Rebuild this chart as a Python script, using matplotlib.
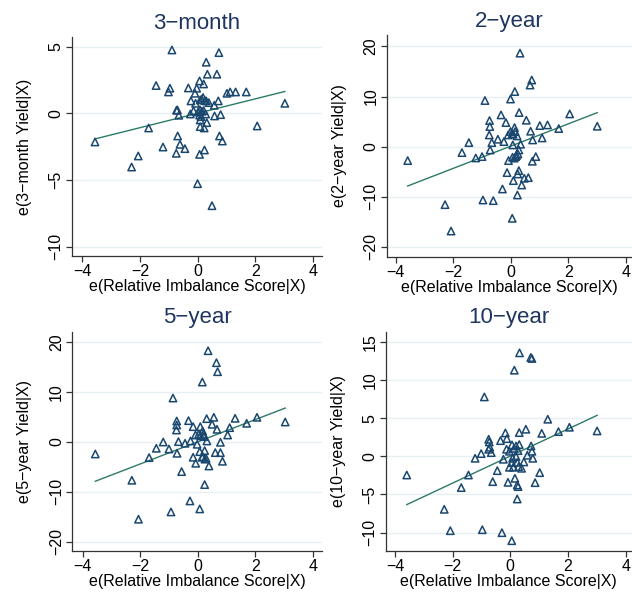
import numpy as np
import matplotlib.pyplot as plt

plt.rcParams['font.family'] = ['Liberation Sans', 'DejaVu Sans']

# panel titles / labels
titles = ["3\u2212month", "2\u2212year", "5\u2212year", "10\u2212year"]
ylabels = ["e(3\u2212month Yield|X)", "e(2\u2212year Yield|X)",
           "e(5\u2212year Yield|X)", "e(10\u2212year Yield|X)"]
xlabel = "e(Relative Imbalance Score|X)"

# 3-month
x_3m = [-0.89, 0.74, 0.30, 0.34, 0.67, -1.44, -0.96, -1.01, -0.32, 0.07, 0.21, -0.03,
        -0.09, 1.02, 1.13, 1.32, 1.69, 3.03, 2.07, -0.23, -0.07, 0.09, 0.19, 0.30, 0.39,
        0.72, 0.58, -0.73, -0.65, -0.25, -0.14, 0.09, 0.21, 0.07, 0.28, 0.59, 0.80, 0.09,
        0.32, 0.09, 0.23, -1.70, -0.69, 0.76, 0.86, -3.56, -0.61, -1.20, -0.44, -0.74,
        0.24, 0.07, -2.06, -2.29, 0.00, 0.50, 0.14, 0.25, 0.15, 0.02, -0.70, 0.12]
y_3m = [4.75, 4.55, 3.83, 2.93, 2.93, 2.08, 1.88, 1.60, 1.90, 2.43, 2.20, 1.88,
        1.50, 1.50, 1.60, 1.60, 1.60, 0.75, -0.95, 0.93, 0.75, 1.00, 1.18, 0.93, 0.80,
        0.93, 0.60, 0.23, -0.15, -0.05, 0.18, 0.25, 0.20, -0.13, -0.05, -0.20, -0.10, -0.50,
        -0.70, -1.00, -1.10, -1.10, -1.70, -1.70, -2.08, -2.15, -2.33, -2.53, -2.65, -3.00,
        -2.75, -3.08, -3.20, -4.03, -5.28, -6.93, 1.05, 0.95, 0.15, 0.10, 0.25, -0.25]

# 2-year
x_2y = [0.32, 0.73, 0.67, 0.14, -0.90, -0.01, 0.29, -0.34, 2.05, -0.74, -0.17, 0.54,
        -0.73, 0.13, 1.01, 1.28, 1.67, 3.01, -0.01, -0.09, 0.08, 0.22, 0.69, -0.75,
        -0.45, -0.66, -0.24, -1.46, 0.76, 1.09, 0.07, 0.34, -0.72, 0.28, -1.70, -1.22,
        -1.00, -0.08, 0.06, 0.17, 0.25, 0.87, 0.75, -3.59, -0.13, 0.28, 0.24, 0.47,
        0.61, 0.09, 0.38, -0.29, 0.23, -0.97, -0.61, -2.29, 0.05, -2.08, 0.15, 0.05,
        0.20, 0.12]
y_2y = [18.67, 13.3, 12.3, 11.0, 9.2, 9.5, 6.8, 6.33, 6.53, 5.2, 4.8, 5.27,
        4.0, 3.8, 4.2, 4.33, 3.6, 4.07, 3.0, 2.33, 2.47, 2.13, 3.07, 2.33,
        1.47, 0.8, 1.0, 0.8, 1.33, 1.73, 0.33, 0.47, -0.67, -0.67, -1.2, -2.27,
        -2.0, -2.8, -2.13, -2.0, -1.47, -2.0, -2.93, -2.8, -5.2, -4.8, -5.47, -6.33,
        -6.2, -6.8, -7.67, -8.47, -9.67, -10.67, -10.8, -11.6, -14.33, -16.87, 3.0, 2.6,
        -1.8, -2.3]

# 5-year
x_5y = [0.36, 0.65, 0.69, 0.16, -0.86, -0.32, 0.31, 0.56, 1.30, 2.06, 1.70, 3.04,
        -0.73, -0.73, -0.74, -0.16, 0.09, 0.50, 0.67, 1.11, 1.04, 0.17, -0.08, 0.03,
        0.21, -1.20, -0.67, -0.25, -0.44, -0.02, 0.32, 0.79, -1.44, -1.00, -0.72,
        -3.56, 0.07, 0.24, 0.61, 0.79, -0.16, 0.15, 0.29, -1.69, -0.07, 0.39, 0.86,
        -0.56, -2.29, 0.24, -0.27, 0.07, -0.93, -2.06, 0.10, 0.20, 0.18, 0.25]
y_5y = [18.2, 15.8, 14.0, 11.93, 8.73, 4.2, 4.6, 4.87, 4.67, 4.87, 3.67, 3.93,
        4.13, 3.33, 2.33, 3.0, 3.0, 3.47, 2.47, 2.8, 1.33, 2.13, 1.33, 1.47,
        1.0, -0.07, 0.0, 0.13, -0.33, -0.53, 0.13, -0.13, -1.33, -1.47, -2.33,
        -2.47, -2.0, -1.8, -2.2, -2.2, -3.13, -3.13, -3.33, -3.2, -4.33, -4.87, -3.93,
        -6.0, -7.73, -8.6, -11.87, -13.47, -14.07, -15.53, 1.2, 1.5, -3.0, -3.5]

# 10-year
x_10y = [0.32, 0.71, 0.75, 0.14, -0.90, 1.30, 0.54, -0.17, 0.31, 1.09, 1.67, 2.05,
         3.01, -0.75, -0.73, -0.34, -0.12, -0.71, -0.75, -0.66, 0.06, 0.20, 0.31, 0.72,
         -0.13, -0.03, 0.13, 0.27, 0.75, -1.01, -1.22, -0.24, 0.08, 0.20, 0.59, 0.78,
         0.05, 0.24, 0.47, -0.03, 0.10, 0.29, 0.39, -0.45, 1.02, -3.59, -1.45, 0.16,
         -0.61, -0.08, 0.86, 0.24, 0.27, -1.70, 0.24, -2.29, -2.08, -0.97, -0.29, 0.05]
y_10y = [13.54, 12.93, 12.8, 11.27, 7.77, 4.85, 3.54, 3.06, 3.1, 3.0, 3.23, 3.8,
         3.32, 2.23, 1.88, 2.05, 2.31, 1.18, 0.92, 0.48, 1.48, 1.35, 1.53, 1.35,
         0.92, 0.66, 1.05, 0.74, 0.66, 0.35, -0.26, -0.39, -0.26, -0.04, 0.13, -0.26,
         -0.83, -0.79, -0.74, -1.44, -1.44, -1.35, -1.57, -1.88, -2.14, -2.45, -2.45, -2.88,
         -3.32, -3.41, -3.45, -3.76, -3.97, -4.1, -5.59, -6.94, -9.74, -9.61, -10.0, -11.05]

# fitted lines (slope, intercept)
fit_slope = [0.54, 2.22, 2.22, 1.77]
fit_icept = [0.0, 0.10, -0.03, 0.03]

xs = [x_3m, x_2y, x_5y, x_10y]
ys = [y_3m, y_2y, y_5y, y_10y]
yticks = [[-10, -5, 0, 5], [-20, -10, 0, 10, 20], [-20, -10, 0, 10, 20],
          [-10, -5, 0, 5, 10, 15]]
ylims = [(-10.7, 5.72), (-22.0, 22.3), (-21.9, 22.0), (-12.4, 16.3)]
xlims = [(-4.36, 4.32), (-4.32, 4.22), (-4.36, 4.32), (-4.32, 4.22)]

navy = "#1a476f"
title_col = "#1e3560"
green = "#2d7a66"

fig = plt.figure(figsize=(6.32, 5.97), dpi=100)
boxes = [[0.1139, 0.5712, 0.3956, 0.3668], [0.6119, 0.5700, 0.3881, 0.3714],
         [0.1144, 0.0770, 0.3951, 0.3673], [0.6103, 0.0770, 0.3897, 0.3673]]

for i in range(4):
    ax = fig.add_axes(boxes[i])
    x = np.array(xs[i])
    y = np.array(ys[i])
    ax.scatter(x, y, marker="^", s=28, facecolors="none", edgecolors=navy,
               linewidths=1.1, zorder=3)
    xl = np.array([x.min(), x.max()])
    ax.plot(xl, fit_slope[i] * xl + fit_icept[i], color=green, lw=1.0, zorder=2)
    ax.set_xlim(xlims[i])
    ax.set_ylim(ylims[i])
    ax.set_xticks([-4, -2, 0, 2, 4])
    ax.set_xticklabels(["\u22124", "\u22122", "0", "2", "4"])
    ax.set_yticks(yticks[i])
    ax.set_yticklabels([str(t).replace("-", "\u2212") for t in yticks[i]],
                       rotation=90, va="center")
    ax.yaxis.grid(True, color="#e6eff1", lw=1.0)
    ax.set_axisbelow(True)
    for s in ["top", "right"]:
        ax.spines[s].set_visible(False)
    for s in ["left", "bottom"]:
        ax.spines[s].set_color("#333333")
        ax.spines[s].set_linewidth(0.9)
    ax.tick_params(labelsize=11.5, length=4, width=0.9, color="#333333", pad=2)
    ax.set_xlabel(xlabel, fontsize=11.5, labelpad=0)
    ax.set_ylabel(ylabels[i], fontsize=11.5, labelpad=12)
    ax.set_title(titles[i], fontsize=16, color=title_col, pad=6)

fig.savefig("out.png", dpi=100)
